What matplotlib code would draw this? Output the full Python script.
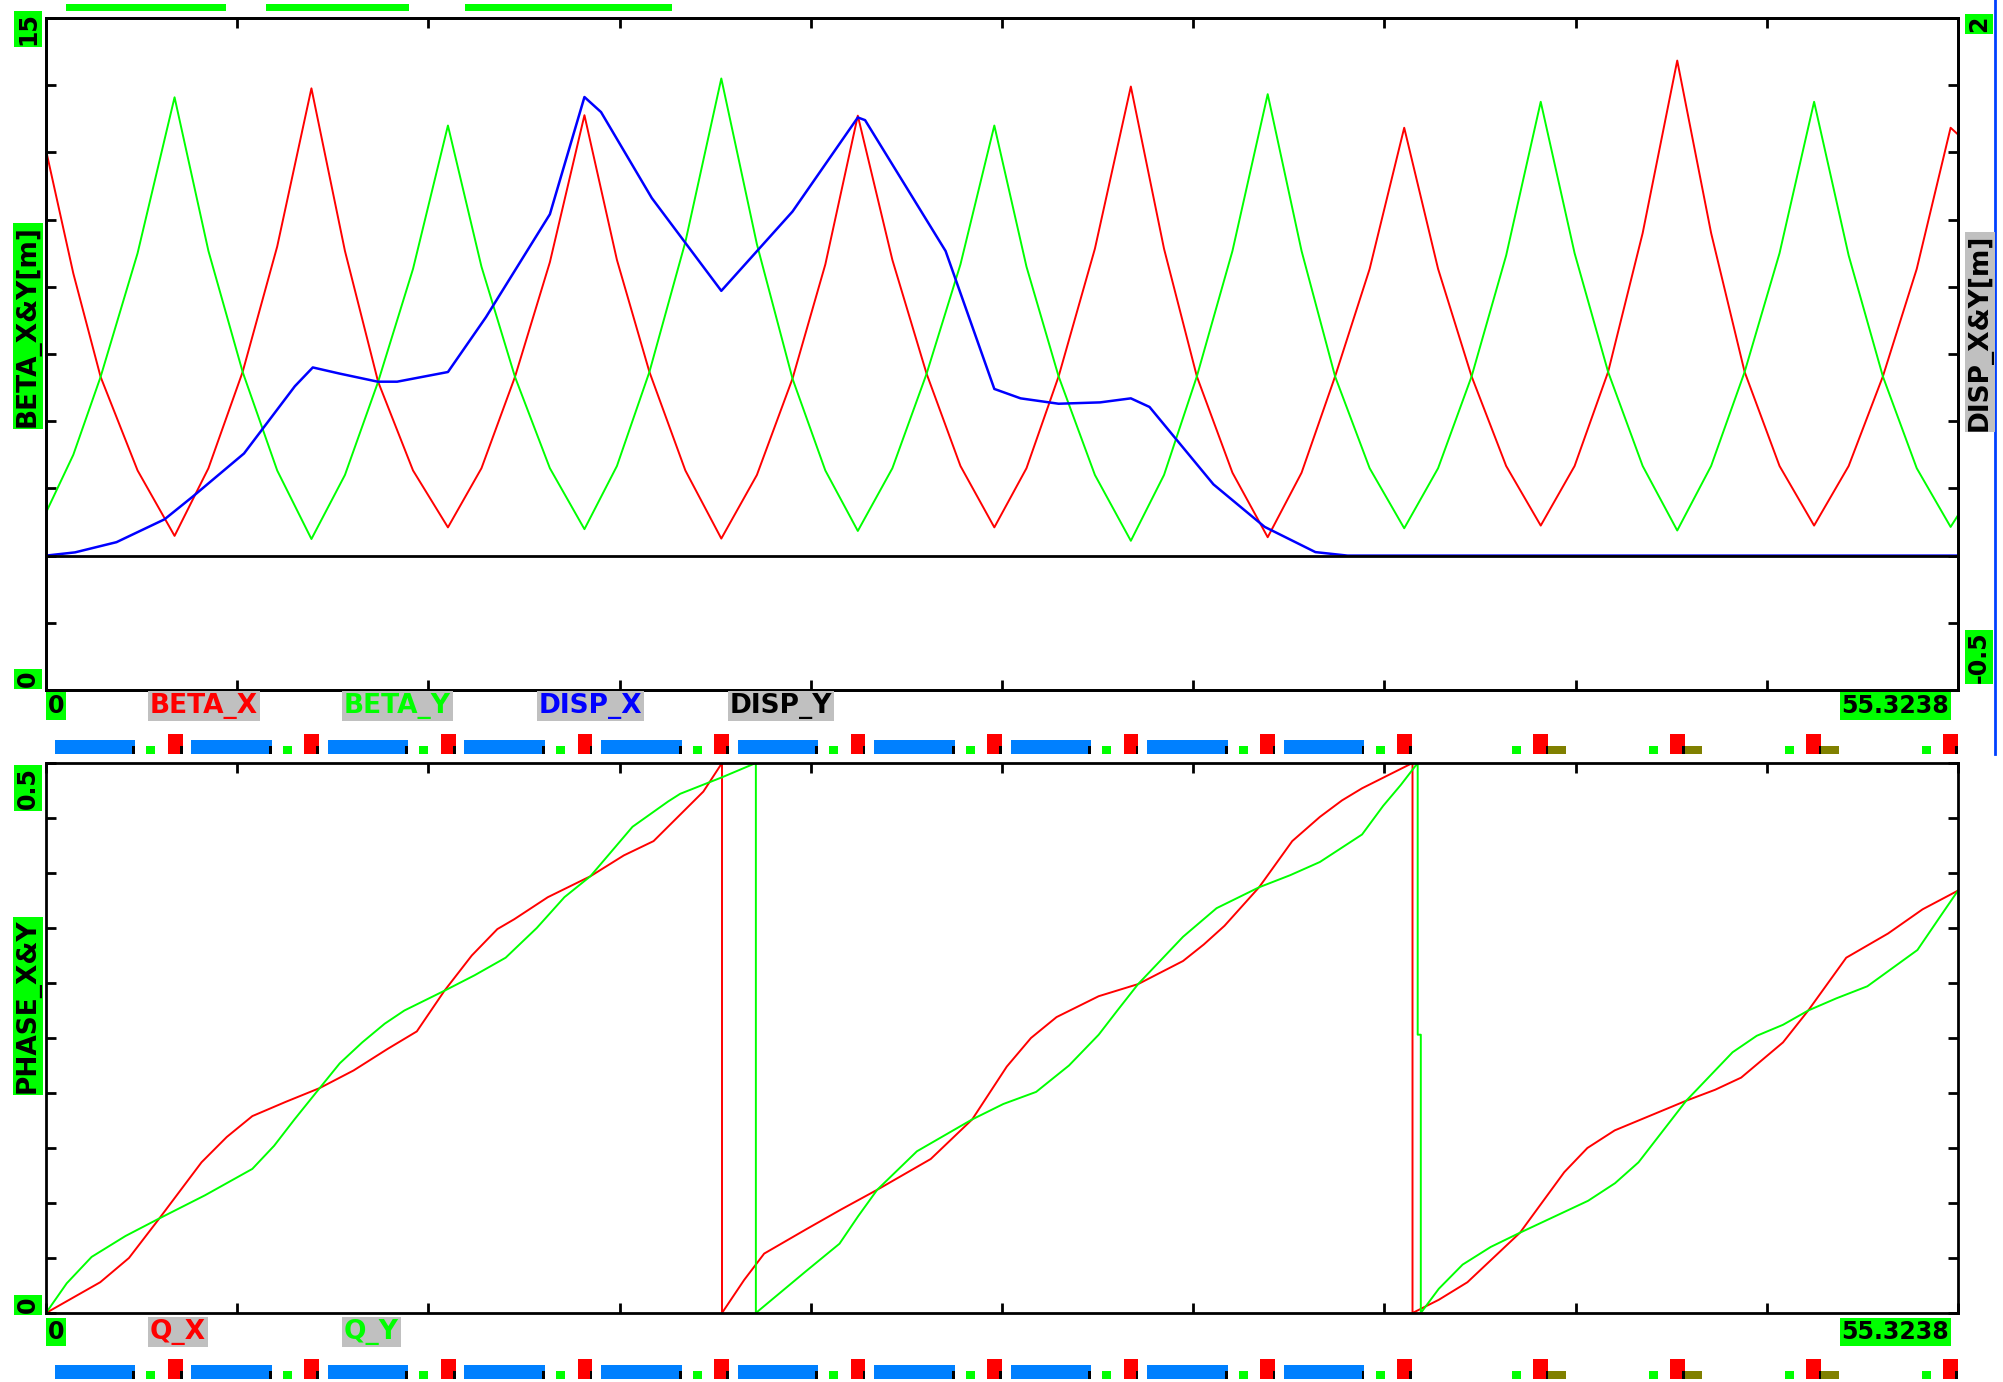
import numpy as np
import matplotlib
matplotlib.use("Agg")
import matplotlib.pyplot as plt
from matplotlib.lines import Line2D

S_END = 55.3238

# beta functions (m)
s_beta = [0, 0.79, 1.58, 2.65, 3.72, 4.70, 5.69, 6.69, 7.68, 8.65, 9.61, 10.62,
          11.63, 12.60, 13.57, 14.58, 15.58, 16.52, 17.46, 18.50, 19.54, 20.57,
          21.6, 22.55, 23.49, 24.49, 25.48, 26.46, 27.44, 28.37, 29.3, 30.35,
          31.39, 32.35, 33.3, 34.33, 35.35, 36.33, 37.3, 38.30, 39.30, 40.28,
          41.25, 42.25, 43.25, 44.23, 45.2, 46.2, 47.20, 48.18, 49.15, 50.16,
          51.16, 52.16, 53.15, 54.13, 55.11, 55.3238]
beta_x = [12.05, 9.3, 6.99, 4.9, 3.44, 4.95, 7.10, 9.9, 13.43, 9.8, 6.88, 4.9,
          3.63, 4.95, 6.99, 9.55, 12.83, 9.6, 7.10, 4.9, 3.38, 4.8,
          6.95, 9.5, 12.82, 9.6, 7.06, 5.0, 3.63, 4.95, 7.0, 9.85,
          13.47, 9.85, 7.0, 4.85, 3.41, 4.85, 7.0, 9.4, 12.55, 9.4,
          7.0, 5.0, 3.67, 5.0, 7.1, 10.2, 14.05, 10.2, 7.1, 5.0,
          3.67, 5.0, 7.0, 9.4, 12.55, 12.4]
beta_y = [3.96, 5.25, 6.99, 9.75, 13.23, 9.8, 7.10, 4.9, 3.37, 4.8, 6.88, 9.4,
          12.6, 9.45, 6.99, 4.95, 3.59, 5.0, 7.10, 10.0, 13.65, 9.95,
          6.95, 4.9, 3.55, 4.95, 7.06, 9.5, 12.6, 9.45, 7.0, 4.8,
          3.33, 4.8, 7.0, 9.8, 13.3, 9.8, 7.0, 4.95, 3.61, 4.95,
          7.0, 9.7, 13.13, 9.75, 7.1, 5.0, 3.56, 5.0, 7.1, 9.75,
          13.13, 9.7, 7.0, 4.95, 3.64, 3.9]

# dispersion (m)
s_disp = [0, 0.84, 2.04, 3.43, 4.25, 5.73, 7.2, 7.72, 8.5, 9.6, 10.16, 11.63,
          12.73, 14.58, 15.58, 16.06, 17.53, 19.54, 21.6, 23.49, 23.7, 26.03,
          27.44, 28.2, 29.3, 30.5, 31.39, 31.93, 33.78, 35.26, 36.73, 37.66, 55.3238]
disp_x = [0, 0.012, 0.05, 0.135, 0.22, 0.38, 0.63, 0.70, 0.677, 0.647, 0.647, 0.683,
          0.887, 1.27, 1.706, 1.65, 1.33, 0.985, 1.28, 1.63, 1.62, 1.133,
          0.62, 0.585, 0.565, 0.57, 0.585, 0.553, 0.265, 0.107, 0.013, 0.0, 0.0]
s_disp_y = [0, 55.3238]
disp_y = [0, 0]

# phase advance (wrapped at 0.5)
s_qx = [0, 1.57, 2.4, 3.28, 4.5, 5.23, 5.97, 6.94, 7.92, 8.9, 9.88, 10.73, 11.53,
        12.32, 13.06, 13.55, 14.52, 15.75, 16.72, 17.58, 19.02, 19.56,
        19.56, 20.2, 20.78, 21.99, 23.0, 24.05, 25.6, 26.8, 27.8, 28.5, 29.24,
        30.46, 31.6, 32.9, 33.5, 34.1, 35.1, 36.06, 36.86, 37.5, 38.08, 39.54,
        39.54, 40.3, 41.13, 42.65, 43.93, 44.6, 45.39, 47.46, 48.3, 49.05, 50.26,
        50.99, 52.09, 53.3, 54.3, 55.3238]
q_x = [0, 0.028, 0.05, 0.086, 0.137, 0.16, 0.179, 0.192, 0.2045, 0.2205, 0.24, 0.256, 0.293,
       0.325, 0.349, 0.358, 0.378, 0.397, 0.416, 0.429, 0.474, 0.5,
       0, 0.03, 0.054, 0.076, 0.094, 0.112, 0.14, 0.176, 0.224, 0.25, 0.269,
       0.288, 0.299, 0.32, 0.335, 0.352, 0.387, 0.429, 0.451, 0.466, 0.477, 0.5,
       0, 0.012, 0.028, 0.073, 0.128, 0.15, 0.166, 0.193, 0.203, 0.214, 0.246,
       0.275, 0.323, 0.345, 0.367, 0.384]
s_qy = [0, 0.6, 1.32, 2.3, 3.28, 4.6, 5.97, 6.6, 7.19, 7.92, 8.5, 9.15, 9.8, 10.37,
        11.53, 12.4, 13.3, 14.2, 15.0, 15.75, 16.97, 18.0, 18.35, 19.56, 20.54,
        20.54, 21.99, 22.96, 23.5, 24.05, 25.2, 26.8, 27.7, 28.65, 29.6, 30.46,
        31.0, 31.6, 32.9, 33.87, 35.1, 36.0, 36.86, 38.08, 38.69, 39.2, 39.69,
        39.69, 39.78, 39.78, 40.3, 40.99, 41.8, 42.65, 44.62, 45.4, 46.08, 47.46,
        48.8, 49.5, 50.26, 50.99, 51.8, 52.7, 54.15, 54.8, 55.3238]
q_y = [0, 0.027, 0.051, 0.07, 0.086, 0.107, 0.131, 0.152, 0.176, 0.2045, 0.227, 0.246, 0.263, 0.275,
       0.293, 0.307, 0.323, 0.35, 0.378, 0.397, 0.442, 0.465, 0.472, 0.487, 0.5,
       0, 0.038, 0.063, 0.088, 0.112, 0.147, 0.176, 0.19, 0.201, 0.225, 0.253,
       0.275, 0.299, 0.342, 0.368, 0.387, 0.398, 0.41, 0.435, 0.461, 0.48, 0.5,
       0.253, 0.253, 0, 0.022, 0.044, 0.06, 0.073, 0.102, 0.118, 0.137, 0.193,
       0.237, 0.252, 0.262, 0.275, 0.286, 0.297, 0.33, 0.36, 0.384]

# lattice elements (start, length) in m
dipoles = [(0.25, 2.33), (4.20, 2.33), (8.15, 2.33), (12.10, 2.33), (16.06, 2.33),
           (20.01, 2.33), (23.96, 2.33), (27.91, 2.33), (31.86, 2.33), (35.82, 2.33)]
correctors = [(2.90, 0.26), (6.85, 0.26), (10.80, 0.26), (14.76, 0.26), (18.71, 0.26),
              (22.66, 0.26), (26.61, 0.26), (30.56, 0.26), (34.51, 0.26), (38.47, 0.26),
              (42.42, 0.26), (46.37, 0.26), (50.32, 0.26), (54.27, 0.26)]
quads = [(3.52, 0.43), (7.47, 0.43), (11.43, 0.43), (15.38, 0.43), (19.33, 0.43),
         (23.28, 0.43), (27.23, 0.43), (31.18, 0.43), (35.14, 0.43), (39.09, 0.43),
         (43.04, 0.43), (46.99, 0.43), (50.94, 0.43), (54.89, 0.43)]
sextupoles = [(43.47, 0.5), (47.42, 0.5), (51.37, 0.5)]
top_strip = [(0.58, 4.63), (6.37, 4.13), (12.12, 5.99)]

x_ticks = np.linspace(0, S_END, 11)

RED = "#ff0000"
GREEN = "#00ff00"
BLUE = "#0000ff"
GREY = "#c0c0c0"
FS_NUM = 17
FS_NAME = 19

W, H = 2003, 1382
fig = plt.figure(figsize=(W / 100, H / 100), dpi=100)


def axes_px(left, top, right, bottom):
    return fig.add_axes([left / W, 1 - bottom / H, (right - left) / W, (bottom - top) / H])


def label(px, py, text, color="black", bg=GREEN, rot=0, ha="center", va="center", fs=FS_NUM):
    fig.text(px / W, 1 - py / H, text, color=color, fontsize=fs, fontweight="bold",
             family="DejaVu Sans", rotation=rot, ha=ha, va=va,
             bbox=dict(facecolor=bg, edgecolor="none", pad=1.2))


def style(ax):
    for sp in ax.spines.values():
        sp.set_linewidth(2)
    ax.tick_params(direction="in", length=7, width=2, labelbottom=False, labelleft=False,
                   labelright=False, labeltop=False)


def lattice(ax):
    ax.set_xlim(0, S_END)
    ax.set_ylim(0, 20)
    ax.axis("off")
    ax.broken_barh(dipoles, (0, 14), facecolor="#0080ff")
    ax.broken_barh(correctors, (0, 8), facecolor=GREEN)
    ax.broken_barh(quads, (0, 20), facecolor=RED)
    ax.broken_barh(sextupoles, (0, 8), facecolor="#808000")
    ax.broken_barh([(a + l - 0.08, 0.08) for a, l in dipoles + quads], (0, 8),
                   facecolor="black", clip_on=False)


# upper panel
ax1 = axes_px(46, 18, 1958, 690)
ax1.plot(s_beta, beta_x, color=RED, lw=1.4)
ax1.plot(s_beta, beta_y, color=GREEN, lw=1.4)
ax1.set_xlim(0, S_END)
ax1.set_ylim(0, 15)
ax1.set_xticks(x_ticks)
ax1.set_yticks(np.arange(0, 15.01, 1.5))
style(ax1)
ax1.tick_params(top=True, bottom=True, left=True, right=False)

ax2 = ax1.twinx()
ax2.plot(s_disp, disp_x, color=BLUE, lw=1.8)
ax2.plot(s_disp_y, disp_y, color="black", lw=2.0)
ax2.set_ylim(-0.5, 2)
ax2.set_yticks(np.arange(-0.5, 2.01, 0.25))
style(ax2)
ax2.tick_params(axis="y", left=False, right=True)

# lower panel
ax3 = axes_px(46, 763, 1958, 1313)
ax3.plot(s_qx, q_x, color=RED, lw=1.4)
ax3.plot(s_qy, q_y, color=GREEN, lw=1.4)
ax3.set_xlim(0, S_END)
ax3.set_ylim(0, 0.5)
ax3.set_xticks(x_ticks)
ax3.set_yticks(np.arange(0, 0.501, 0.05))
style(ax3)
ax3.tick_params(top=True, bottom=True, left=True, right=True)

# lattice strips
lattice(axes_px(46, 734, 1958, 754))
lattice(axes_px(46, 1359, 1958, 1379))
axt = axes_px(46, 4, 1958, 11)
axt.set_xlim(0, S_END)
axt.set_ylim(0, 1)
axt.axis("off")
axt.broken_barh(top_strip, (0, 1), facecolor=GREEN)

fig.add_artist(Line2D([1995 / W] * 2, [1, 1 - 754 / H], color="#0040ff", lw=2))

# axis labels
label(28, 29, "15", rot=90)
label(28, 679, "0", rot=90)
label(28, 326, "BETA_X&Y[m]", rot=90, fs=FS_NAME)
label(1979, 24, "2", rot=90)
label(1979, 657, "-0.5", rot=90)
label(1980, 332, "DISP_X&Y[m]", bg=GREY, rot=90, fs=FS_NAME)
label(28, 788, "0.5", rot=90)
label(28, 1305, "0", rot=90)
label(28, 1006, "PHASE_X&Y", rot=90, fs=FS_NAME)

label(48, 706, "0", ha="left")
label(150, 706, "BETA_X", color=RED, bg=GREY, ha="left", fs=FS_NAME)
label(344, 706, "BETA_Y", color=GREEN, bg=GREY, ha="left", fs=FS_NAME)
label(539, 706, "DISP_X", color=BLUE, bg=GREY, ha="left", fs=FS_NAME)
label(730, 706, "DISP_Y", color="black", bg=GREY, ha="left", fs=FS_NAME)
label(1949, 706, "55.3238", ha="right")

label(48, 1332, "0", ha="left")
label(150, 1332, "Q_X", color=RED, bg=GREY, ha="left", fs=FS_NAME)
label(344, 1332, "Q_Y", color=GREEN, bg=GREY, ha="left", fs=FS_NAME)
label(1949, 1332, "55.3238", ha="right")

fig.savefig("out.png", dpi=100)
